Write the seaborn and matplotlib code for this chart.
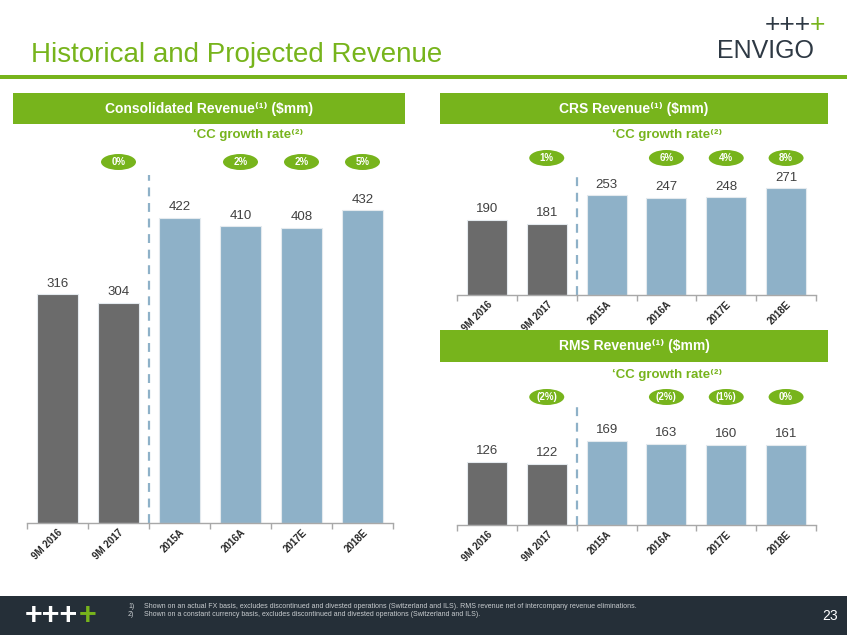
import numpy as np
import pandas as pd
import matplotlib
matplotlib.use("Agg")
import matplotlib.pyplot as plt
import seaborn as sns
from matplotlib.patches import Ellipse, Rectangle
from matplotlib.transforms import blended_transform_factory

# ---------------- data ----------------
categories = ["9M 2016", "9M 2017", "2015A", "2016A", "2017E", "2018E"]
periods = ["9M", "9M", "FY", "FY", "FY", "FY"]
consolidated = [316, 304, 422, 410, 408, 432]
crs = [190, 181, 253, 247, 248, 271]
rms = [126, 122, 169, 163, 160, 161]
cons_growth = [None, "0%", None, "2%", "2%", "5%"]
crs_growth = [None, "1%", None, "6%", "4%", "8%"]
rms_growth = [None, "(2%)", None, "(2%)", "(1%)", "0%"]
footnotes = [
    "Shown on an actual FX basis, excludes discontinued and divested operations (Switzerland and ILS). RMS revenue net of intercompany revenue eliminations.",
    "Shown on a constant currency basis, excludes discontinued and divested operations (Switzerland and ILS).",
]

# ---------------- style ----------------
sns.set_theme(style="white")
plt.rcParams["font.family"] = ["Liberation Sans", "DejaVu Sans"]

W, H = 847, 635
GREEN = "#77b41c"
DARK = "#6b6b6b"
LIGHT = "#8eb1c8"
TXT = "#404040"
FOOT = "#252f38"

fig = plt.figure(figsize=(W / 100, H / 100), dpi=100)
fig.patch.set_facecolor("white")


def fx(px):
    return px / W


def fy(py):
    return 1 - py / H


# ---------------- page chrome ----------------
fig.text(fx(31), fy(62), "Historical and Projected Revenue", color=GREEN,
         fontsize=20, va="baseline", ha="left")
fig.add_artist(Rectangle((0, fy(78.5)), 1, 3 / H, transform=fig.transFigure,
                         color=GREEN, lw=0))
# logo top-right
fig.text(fx(765), fy(25), "+++", color="#2e3944", fontsize=19, va="center", ha="left")
fig.text(fx(810), fy(25), "+", color=GREEN, fontsize=19, va="center", ha="left")
fig.text(fx(717), fy(58), "ENVIGO", color="#2e3944", fontsize=18, va="baseline", ha="left")

# footer
fig.add_artist(Rectangle((0, 0), 1, fy(596), transform=fig.transFigure,
                         color=FOOT, lw=0))
fig.text(fx(25), fy(616), "+++", color="white", fontsize=22, va="center",
         ha="left", fontweight="bold")
fig.text(fx(79), fy(616), "+", color=GREEN, fontsize=22, va="center",
         ha="left", fontweight="bold")
for k, note in enumerate(footnotes):
    yy = fy(606 + 8.5 * k)
    fig.text(fx(128), yy, f"{k + 1})", color="#c9cdd0", fontsize=5, va="center")
    fig.text(fx(144), yy, note, color="#c9cdd0", fontsize=5, va="center")
fig.text(fx(838), fy(616), "23", color="white", fontsize=10, va="center", ha="right")


def header(x0, x1, y0, y1, title, ccx, ccy):
    fig.add_artist(Rectangle((fx(x0), fy(y1)), fx(x1 - x0), (y1 - y0) / H,
                             transform=fig.transFigure, color=GREEN, lw=0))
    fig.text(fx((x0 + x1) / 2), fy((y0 + y1) / 2), title, color="white",
             fontsize=10, fontweight="bold", ha="center", va="center")
    fig.text(fx(ccx), fy(ccy), "\u2018CC growth rate\u207d\u00b2\u207e", color=GREEN,
             fontsize=9.5, fontweight="bold", ha="center", va="center")


def panel(rect_px, values, growth, ylim_top, oval_y):
    x0, x1, ytop, ybot = rect_px
    ax = fig.add_axes([fx(x0), fy(ybot), fx(x1 - x0), (ybot - ytop) / H])
    df = pd.DataFrame({"cat": categories, "val": values, "grp": periods})
    sns.barplot(data=df, x="cat", y="val", hue="grp",
                palette={"9M": DARK, "FY": LIGHT}, dodge=False, width=0.67,
                saturation=1, legend=False, ax=ax, edgecolor="#e4eaee",
                linewidth=0.8)
    for c in ax.containers:
        ax.bar_label(c, fmt="%.0f", padding=3.5, fontsize=9.5, color=TXT)
    ax.axvline(1.5, color=LIGHT, ls=(0, (4, 3)), lw=1.6, zorder=0)
    ax.set_xlim(-0.5, 5.5)
    ax.set_ylim(0, ylim_top)
    for s in ["top", "left", "right"]:
        ax.spines[s].set_visible(False)
    ax.spines["bottom"].set_color("#a8a8a8")
    ax.spines["bottom"].set_linewidth(1.0)
    ax.set_yticks([])
    ax.set_xlabel("")
    ax.set_ylabel("")
    ax.set_xticks(range(len(categories)))
    ax.set_xticklabels(categories, rotation=45, ha="right", rotation_mode="anchor",
                       fontsize=7, fontweight="bold", color="#262626")
    ax.set_xticks(np.arange(-0.5, len(categories), 1), minor=True)
    ax.tick_params(axis="x", which="major", length=0, pad=3)
    ax.tick_params(axis="x", which="minor", length=4, color="#a8a8a8", width=1,
                   direction="out", bottom=True)
    ax.patch.set_alpha(0)
    # growth ovals
    ppu = (x1 - x0) / len(categories)
    trans = blended_transform_factory(ax.transData, fig.transFigure)
    for i, g in enumerate(growth):
        if g is None:
            continue
        e = Ellipse((i, fy(oval_y)), width=35 / ppu, height=16 / H,
                    transform=trans, color=GREEN, lw=0, clip_on=False)
        fig.add_artist(e)
        fig.text(i, fy(oval_y), g, transform=trans, color="white",
                 fontsize=7, fontweight="bold", ha="center", va="center")
    return ax


header(13, 405, 93, 124, "Consolidated Revenue\u207d\u00b9\u207e ($mm)", 248, 135)
header(440, 828, 93, 124, "CRS Revenue\u207d\u00b9\u207e ($mm)", 667, 135)
header(440, 828, 330, 362, "RMS Revenue\u207d\u00b9\u207e ($mm)", 667, 375)

panel((27, 393, 175, 523), consolidated, cons_growth, 481, 162)
panel((457, 816, 175, 295), crs, crs_growth, 305, 158)
panel((457, 816, 405, 525), rms, rms_growth, 240, 397)

fig.savefig("out.png", dpi=100, facecolor="white")
